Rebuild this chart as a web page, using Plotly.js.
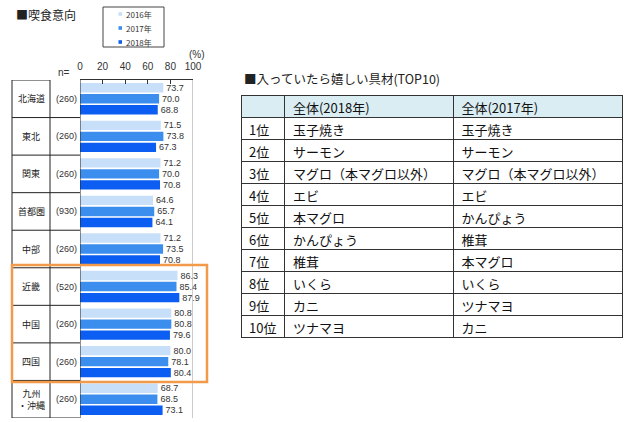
<!DOCTYPE html>
<html>
<head>
<meta charset="utf-8">
<script src="https://cdn.plot.ly/plotly-3.0.1.min.js"></script>
<style>html,body{margin:0;padding:0;background:#fff;}#chart{width:640px;height:422px;}</style>
</head>
<body>
<div id="chart"></div>
<script>
// ---- data ----
const regions = ['北海道','東北','関東','首都圏','中部','近畿','中国','四国','九州・沖縄'];
const nValues = [260,260,260,930,260,520,260,260,260];
const years = ['2016年','2017年','2018年'];
const v2016 = [73.7,71.5,71.2,64.6,71.2,86.3,80.8,80.0,68.7];
const v2017 = [70.0,73.8,70.0,65.7,73.5,85.4,80.8,78.1,68.5];
const v2018 = [68.8,67.3,70.8,64.1,70.8,87.9,79.6,80.4,73.1];
const xTicks = [0,20,40,60,80,100];

const ranks = ['1位','2位','3位','4位','5位','6位','7位','8位','9位','10位'];
const tableHeader = ['','全体(2018年)','全体(2017年)'];
const top2018 = ['玉子焼き','サーモン','マグロ（本マグロ以外）','エビ','本マグロ','かんぴょう','椎茸','いくら','カニ','ツナマヨ'];
const top2017 = ['玉子焼き','サーモン','マグロ（本マグロ以外）','エビ','かんぴょう','椎茸','本マグロ','いくら','ツナマヨ','カニ'];

// ---- styling ----
const W = 640, H = 422;
const px = x => x / W;
const py = y => 1 - y / H;
const JP = '"Noto Sans CJK JP", "Noto Sans", sans-serif';
const NUM = '"Liberation Sans", Arial, sans-serif';
const colors = ['#c8dffa', '#3b8eee', '#0c5ef2'];
const series = [v2016, v2017, v2018];

const traces = series.map((vals, i) => ({
  type: 'bar',
  orientation: 'h',
  name: years[i],
  x: vals,
  y: regions,
  marker: {color: colors[i]},
  text: vals.map(v => v.toFixed(1)),
  textposition: 'outside',
  constraintext: 'none',
  cliponaxis: false,
  textfont: {family: NUM, size: 9, color: '#333'},
  showlegend: false,
  hoverinfo: 'x+name'
}));

traces.push({
  type: 'table',
  domain: {x: [px(241), px(623)], y: [py(338), py(95)]},
  columnwidth: [44, 169, 169],
  header: {
    values: tableHeader,
    align: 'left',
    height: 22,
    fill: {color: '#daedf3'},
    line: {color: '#333', width: 1},
    font: {family: JP, size: 13, color: '#111'}
  },
  cells: {
    values: [ranks, top2018, top2017],
    align: 'left',
    height: 22,
    fill: {color: '#ffffff'},
    line: {color: '#333', width: 1},
    font: {family: JP, size: 13, color: '#111'}
  }
});

const shapes = [];
const annotations = [];

// left table lines
shapes.push({type:'line', xref:'paper', yref:'y', x0:px(12), x1:px(50), y0:-0.5, y1:-0.5, line:{color:'#222', width:1}});
for (let i = 1; i <= regions.length; i++) {
  shapes.push({type:'line', xref:'paper', yref:'y', x0:px(12), x1:px(80), y0:i-0.5, y1:i-0.5, line:{color:'#222', width:1}});
}
[12, 50].forEach(x => shapes.push({type:'line', xref:'paper', yref:'y', x0:px(x), x1:px(x), y0:-0.5, y1:regions.length-0.5, line:{color:'#222', width:1}}));
// plot left / right borders
shapes.push({type:'line', xref:'x', yref:'y', x0:0, x1:0, y0:-0.5, y1:regions.length-0.5, line:{color:'#222', width:1}});
shapes.push({type:'line', xref:'x', yref:'y', x0:100, x1:100, y0:-0.5, y1:regions.length-0.5, line:{color:'#999', width:1}});
// highlight box
shapes.push({type:'rect', xref:'paper', yref:'paper', x0:px(12), x1:px(207), y0:py(382), y1:py(265), line:{color:'#f29a4a', width:2.5}, fillcolor:'rgba(0,0,0,0)'});
// legend box
shapes.push({type:'rect', xref:'paper', yref:'paper', x0:px(103), x1:px(164), y0:py(47), y1:py(7), line:{color:'#444', width:1}, fillcolor:'#fff'});
const legY = [14, 28, 42];
years.forEach((yr, i) => {
  shapes.push({type:'rect', xref:'paper', yref:'paper', x0:px(118.5), x1:px(122), y0:py(legY[i]+1.8), y1:py(legY[i]-1.8), line:{width:0}, fillcolor:colors[i]});
  annotations.push({xref:'paper', yref:'paper', x:px(123.5), y:py(legY[i]), xanchor:'left', yanchor:'middle', text:yr, showarrow:false, font:{family:JP, size:8, color:'#333'}});
});

// region names and n
regions.forEach((r, i) => {
  annotations.push({xref:'paper', yref:'y', x:px(31), y:r, xanchor:'center', yanchor:'middle', text:r.replace('・','<br>・'), showarrow:false, font:{family:JP, size:9, color:'#222'}});
  annotations.push({xref:'paper', yref:'y', x:px(79), y:r, xanchor:'right', yanchor:'middle', text:'(' + nValues[i] + ')', showarrow:false, font:{family:NUM, size:9, color:'#333'}});
});
annotations.push({xref:'paper', yref:'paper', x:px(14), y:py(14), xanchor:'left', yanchor:'middle', text:'■喫食意向', showarrow:false, font:{family:JP, size:12, color:'#222'}});
annotations.push({xref:'paper', yref:'paper', x:px(72), y:py(72), xanchor:'right', yanchor:'middle', text:'n=', showarrow:false, font:{family:NUM, size:10, color:'#333'}});
annotations.push({xref:'paper', yref:'paper', x:px(197), y:py(55), xanchor:'center', yanchor:'middle', text:'(%)', showarrow:false, font:{family:NUM, size:10, color:'#333'}});
annotations.push({xref:'paper', yref:'paper', x:px(242), y:py(78), xanchor:'left', yanchor:'middle', text:'■入っていたら嬉しい具材(TOP10)', showarrow:false, font:{family:JP, size:12.5, color:'#222'}});

const layout = {
  width: W, height: H,
  margin: {l:0, r:0, t:0, b:0},
  paper_bgcolor: '#fff', plot_bgcolor: '#fff',
  barmode: 'group',
  bargap: 0.12,
  bargroupgap: 0.15,
  xaxis: {
    domain: [px(80), px(193)],
    side: 'top',
    range: [0, 100],
    tickvals: xTicks,
    ticks: 'inside', ticklen: 4, tickcolor: '#333',
    ticklabelstandoff: 5,
    showline: true, linecolor: '#333', linewidth: 1,
    showgrid: false, zeroline: false,
    tickfont: {family: NUM, size: 10, color: '#333'},
    fixedrange: true
  },
  yaxis: {
    domain: [py(418), py(80)],
    type: 'category',
    range: [regions.length - 0.5, -0.5],
    showticklabels: false, ticks: '',
    showgrid: false, zeroline: false, showline: false,
    fixedrange: true
  },
  shapes: shapes,
  annotations: annotations
};

Plotly.newPlot('chart', traces, layout, {displayModeBar: false, staticPlot: true});
</script>
</body>
</html>
